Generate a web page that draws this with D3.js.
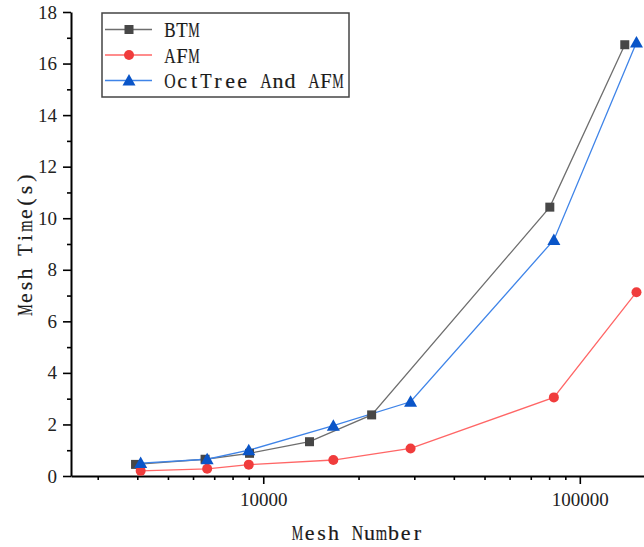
<!DOCTYPE html>
<html>
<head>
<meta charset="utf-8">
<script src="https://cdn.jsdelivr.net/npm/d3@7"></script>
<style>
  body { margin: 0; background: #fff; }
  svg { display: block; }
</style>
</head>
<body>
<div id="chart"></div>
<script>
// values
const btmX = [3950, 6550, 9050, 14000, 22000, 80400, 138700];
const btmY = [0.45, 0.65, 0.88, 1.33, 2.37, 10.43, 16.73];
const afmX = [4100, 6650, 9000, 16650, 29200, 82800, 151000];
const afmY = [0.2, 0.28, 0.44, 0.62, 1.07, 3.05, 7.13];
const octX = [4100, 6650, 9000, 16650, 29200, 82800, 151000];
const octY = [0.5, 0.65, 1.0, 1.95, 2.88, 9.16, 16.82];

const seriesNames = ['BTM', 'AFM', 'OctTree And AFM'];
const xMajorTicks = [10000, 100000];
const xMinorTicks = [3000, 4000, 5000, 6000, 7000, 8000, 9000,
  20000, 30000, 40000, 50000, 60000, 70000, 80000, 90000];
const yMajorTicks = [0, 2, 4, 6, 8, 10, 12, 14, 16, 18];
const yMinorTicks = [1, 3, 5, 7, 9, 11, 13, 15, 17];

const width = 644, height = 547;
const margin = {top: 12, right: 0, bottom: 71, left: 71};

const series = [
  {name: seriesNames[0], xs: btmX, ys: btmY, line: '#6e6e6e', fill: '#474747', shape: 'square'},
  {name: seriesNames[1], xs: afmX, ys: afmY, line: '#ff6666', fill: '#f03c3c', shape: 'circle'},
  {name: seriesNames[2], xs: octX, ys: octY, line: '#3f84e8', fill: '#0a55c8', shape: 'triangle'}
];

const svg = d3.select('#chart').append('svg')
  .attr('width', width)
  .attr('height', height);

const x = d3.scaleLog()
  .domain([2470, 159500])
  .range([margin.left, width - margin.right]);
const y = d3.scaleLinear()
  .domain([0, 18])
  .range([height - margin.bottom, margin.top]);

const tickFont = '"Liberation Serif", "Times New Roman", serif';
const titleFont = '"Liberation Serif", "Times New Roman", serif';

// x axis
svg.append('g')
  .attr('transform', `translate(0,${y(0)})`)
  .call(d3.axisBottom(x).tickValues(xMajorTicks).tickFormat(d3.format('d'))
    .tickSize(8).tickPadding(9).tickSizeOuter(0));
svg.append('g')
  .attr('transform', `translate(0,${y(0)})`)
  .call(d3.axisBottom(x).tickValues(xMinorTicks).tickFormat('')
    .tickSize(4).tickSizeOuter(0))
  .select('.domain').remove();

// y axis
svg.append('g')
  .attr('transform', `translate(${x.range()[0]},0)`)
  .call(d3.axisLeft(y).tickValues(yMajorTicks)
    .tickSize(8).tickPadding(6).tickSizeOuter(0));
svg.append('g')
  .attr('transform', `translate(${x.range()[0]},0)`)
  .call(d3.axisLeft(y).tickValues(yMinorTicks).tickFormat('')
    .tickSize(4).tickSizeOuter(0))
  .select('.domain').remove();

svg.selectAll('.domain').attr('stroke', '#000').attr('stroke-width', 2);
svg.selectAll('.tick line').attr('stroke', '#000').attr('stroke-width', 1.6);
svg.selectAll('.tick text')
  .attr('font-family', tickFont)
  .attr('font-size', 19)
  .attr('fill', '#222');

// the original titles use a fixed-width serif: one glyph per 12px cell,
// wide glyphs narrowed so they stay inside their cell
const cellW = 12, maxGlyph = 11.4;
function monoText(parent, str, tx, ty, rotate, centered) {
  const g = parent.append('g')
    .attr('transform', `translate(${tx},${ty})${rotate ? ' rotate(-90)' : ''}`);
  const start = centered ? -str.length * cellW / 2 : 0;
  str.split('').forEach((c, i) => {
    if (c === ' ') return;
    const cg = g.append('g');
    const t = cg.append('text')
      .attr('font-family', titleFont)
      .attr('font-size', 22)
      .attr('fill', '#1a1a1a')
      .attr('stroke', '#1a1a1a')
      .attr('stroke-width', 0.2)
      .attr('text-anchor', 'middle')
      .text(c);
    const w = t.node().getComputedTextLength();
    const sx = w > maxGlyph ? maxGlyph / w : 1;
    cg.attr('transform', `translate(${start + (i + 0.5) * cellW},0) scale(${sx},1)`);
  });
  return g;
}

// axis titles
monoText(svg, 'Mesh Number', (x.range()[0] + x.range()[1]) / 2, 540, false, true);
monoText(svg, 'Mesh Time(s)', 32, (y(0) + y(18)) / 2, true, true);

// marker helper
function marker(g, shape, fill, cx, cy) {
  if (shape === 'square') {
    g.append('rect')
      .attr('x', cx - 4.5).attr('y', cy - 4.5)
      .attr('width', 9).attr('height', 9)
      .attr('fill', fill);
  } else if (shape === 'circle') {
    g.append('circle')
      .attr('cx', cx).attr('cy', cy).attr('r', 5)
      .attr('fill', fill);
  } else {
    g.append('path')
      .attr('d', `M${cx},${cy - 6.5}L${cx + 6.5},${cy + 5}L${cx - 6.5},${cy + 5}Z`)
      .attr('fill', fill);
  }
}

// lines, then markers
const line = d3.line()
  .x(d => x(d[0]))
  .y(d => y(d[1]));

const plot = svg.append('g');
series.forEach(s => {
  const pts = s.xs.map((v, i) => [v, s.ys[i]]);
  plot.append('path')
    .datum(pts)
    .attr('d', line)
    .attr('fill', 'none')
    .attr('stroke', s.line)
    .attr('stroke-width', 1.3);
});
series.forEach(s => {
  const g = plot.append('g');
  s.xs.forEach((v, i) => marker(g, s.shape, s.fill, x(v), y(s.ys[i])));
});

// legend
const legend = svg.append('g');
legend.append('rect')
  .attr('x', 102).attr('y', 13)
  .attr('width', 247).attr('height', 84)
  .attr('fill', '#fff')
  .attr('stroke', '#444')
  .attr('stroke-width', 1.5);

series.forEach((s, i) => {
  const cy = 29.5 + i * 25.5;
  legend.append('line')
    .attr('x1', 105).attr('x2', 152)
    .attr('y1', cy).attr('y2', cy)
    .attr('stroke', s.line)
    .attr('stroke-width', 1.3);
  marker(legend, s.shape, s.fill, 129, cy);
  monoText(legend, s.name, 164, cy + 7.5, false, false);
});
</script>
</body>
</html>
